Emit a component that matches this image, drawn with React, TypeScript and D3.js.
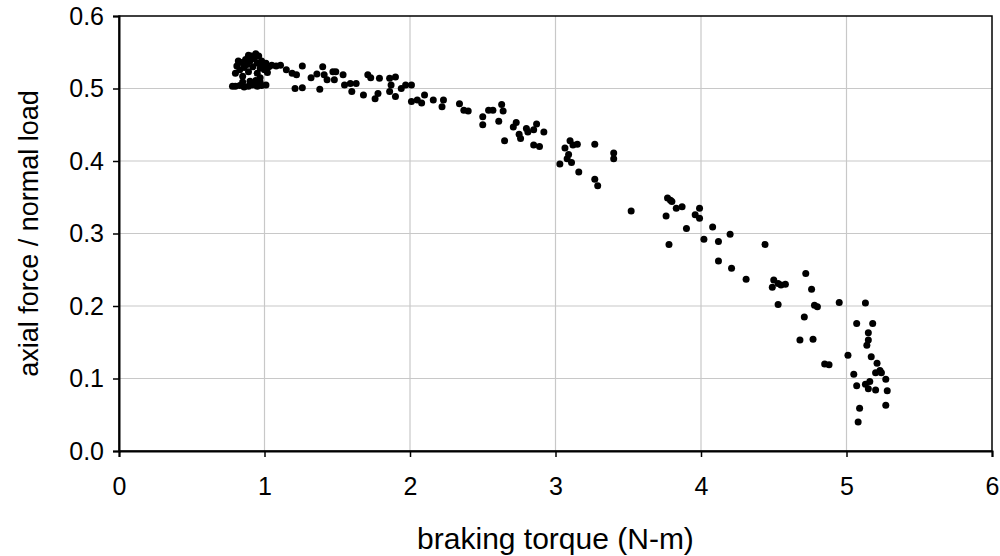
import { select, scaleLinear, axisBottom, axisLeft } from 'd3';
import { useEffect, useRef } from 'react';

// braking torque (N-m) vs axial force / normal load
const torque: number[] = [
  0.78, 0.80, 0.83, 0.86, 0.89, 0.92, 0.95, 0.98, 1.01,
  0.85, 0.90, 0.94, 0.97,
  0.80, 0.81, 0.83, 0.84, 0.85, 0.86, 0.87, 0.88, 0.89, 0.90, 0.91, 0.92, 0.93, 0.94, 0.95, 0.96, 0.97, 0.98, 0.99, 1.00, 1.01, 1.03, 0.82, 0.95, 0.89, 1.02, 0.97,
  1.05, 1.08, 1.11, 1.15, 1.19, 1.22, 1.26, 1.21, 1.26, 1.32, 1.36, 1.38, 1.40, 1.41, 1.43, 1.47,
  1.49, 1.48, 1.54, 1.55, 1.59, 1.60, 1.63, 1.68, 1.71, 1.73, 1.79, 1.76, 1.78, 1.86, 1.90, 1.87, 1.86, 1.90, 1.94, 1.97, 2.01, 2.01, 2.05, 2.08, 2.10, 2.16, 2.23, 2.22, 2.34, 2.37,
  2.40, 2.50, 2.50, 2.54, 2.57, 2.63, 2.64, 2.61, 2.65, 2.71, 2.73, 2.76, 2.75, 2.80, 2.81, 2.85, 2.87, 2.85, 2.89, 2.92, 3.065, 3.10, 3.12, 3.15, 3.09, 3.08, 3.03, 3.11, 3.16, 3.27, 3.27, 3.29, 3.40, 3.40, 3.52,
  3.77, 3.79, 3.80, 3.83, 3.87, 3.76, 3.99, 3.96, 3.99, 3.90, 3.78, 4.02, 4.08, 4.12, 4.20, 4.12, 4.21,
  4.44, 4.31, 4.50, 4.49, 4.53, 4.55, 4.58, 4.72, 4.76, 4.53, 4.78, 4.80, 4.95, 4.71, 4.68, 4.77, 4.85, 4.88, 5.01,
  5.13, 5.07, 5.18, 5.15, 5.15, 5.14, 5.17, 5.21, 5.23, 5.20, 5.24, 5.27, 5.05, 5.07, 5.13, 5.15, 5.16, 5.20, 5.28, 5.09, 5.27, 5.08,
];

const ratio: number[] = [
  0.503, 0.503, 0.504, 0.502, 0.503, 0.505, 0.503, 0.504, 0.505,
  0.509, 0.510, 0.511, 0.509,
  0.521, 0.531, 0.526, 0.536, 0.517, 0.529, 0.540, 0.533, 0.523, 0.538, 0.545, 0.530, 0.541, 0.548, 0.535, 0.545, 0.528, 0.538, 0.532, 0.526, 0.535, 0.530, 0.538, 0.521, 0.546, 0.522, 0.515,
  0.532, 0.531, 0.532, 0.526, 0.521, 0.519, 0.531, 0.500, 0.501, 0.515, 0.520, 0.499, 0.530, 0.519, 0.512, 0.523,
  0.523, 0.512, 0.519, 0.505, 0.507, 0.496, 0.507, 0.491, 0.519, 0.515, 0.514, 0.486, 0.493, 0.514, 0.516, 0.505, 0.496, 0.489, 0.500, 0.505, 0.505, 0.482, 0.484, 0.480, 0.491, 0.484, 0.484, 0.475, 0.479, 0.470,
  0.469, 0.461, 0.450, 0.470, 0.470, 0.478, 0.469, 0.455, 0.428, 0.447, 0.453, 0.431, 0.437, 0.445, 0.440, 0.443, 0.451, 0.422, 0.420, 0.440, 0.418, 0.428, 0.422, 0.423, 0.409, 0.403, 0.396, 0.398, 0.385, 0.423, 0.375, 0.366, 0.411, 0.403, 0.331,
  0.349, 0.346, 0.344, 0.335, 0.337, 0.324, 0.335, 0.326, 0.321, 0.307, 0.285, 0.292, 0.309, 0.289, 0.299, 0.262, 0.252,
  0.285, 0.237, 0.236, 0.226, 0.231, 0.229, 0.230, 0.245, 0.223, 0.202, 0.201, 0.199, 0.205, 0.185, 0.153, 0.154, 0.120, 0.119, 0.132,
  0.204, 0.176, 0.176, 0.163, 0.153, 0.146, 0.130, 0.121, 0.111, 0.108, 0.108, 0.099, 0.106, 0.090, 0.092, 0.086, 0.096, 0.084, 0.083, 0.059, 0.063, 0.040,
];

const xTicks = [0, 1, 2, 3, 4, 5, 6];
const yTicks = [0, 0.1, 0.2, 0.3, 0.4, 0.5, 0.6];

const W = 1000, H = 556;
const left = 119, right = 992, top = 16, bottom = 451;
const font = '"Liberation Sans", Arial, sans-serif';

export default function App() {
  const svgRef = useRef<SVGSVGElement>(null);

  useEffect(() => {
    if (svgRef.current == null) return;
    const svg = select(svgRef.current);
    svg.selectAll('*').remove();

    const x = scaleLinear().domain([0, 6]).range([left, right]);
    const y = scaleLinear().domain([0, 0.6]).range([bottom, top]);

    // gridlines
    svg.append('g')
      .selectAll('line')
      .data(xTicks.slice(1, -1))
      .enter()
      .append('line')
      .attr('x1', d => x(d)).attr('x2', d => x(d))
      .attr('y1', top).attr('y2', bottom)
      .attr('stroke', '#c8c8c8').attr('stroke-width', 1.2);
    svg.append('g')
      .selectAll('line')
      .data(yTicks.slice(1, -1))
      .enter()
      .append('line')
      .attr('y1', d => y(d)).attr('y2', d => y(d))
      .attr('x1', left).attr('x2', right)
      .attr('stroke', '#c8c8c8').attr('stroke-width', 1.2);

    // frame
    svg.append('rect')
      .attr('x', left).attr('y', top)
      .attr('width', right - left).attr('height', bottom - top)
      .attr('fill', 'none').attr('stroke', '#000').attr('stroke-width', 1.5);

    // points
    svg.append('g')
      .selectAll('circle')
      .data(torque.map((t, i) => [t, ratio[i]] as [number, number]))
      .enter()
      .append('circle')
      .attr('cx', d => x(d[0]))
      .attr('cy', d => y(d[1]))
      .attr('r', 3.5)
      .attr('fill', '#000');

    const gx = svg.append('g')
      .attr('transform', `translate(0,${bottom})`)
      .call(axisBottom(x).tickValues(xTicks).tickFormat(d => `${d}`).tickSize(6).tickPadding(20));
    const gy = svg.append('g')
      .attr('transform', `translate(${left},0)`)
      .call(axisLeft(y).tickValues(yTicks).tickFormat(d => (d as number).toFixed(1)).tickSize(6).tickPadding(9));

    [gx, gy].forEach(g => {
      g.select('.domain').attr('stroke', '#000').attr('stroke-width', 2);
      g.selectAll('.tick line').attr('stroke', '#000').attr('stroke-width', 1.5);
      g.selectAll('.tick text')
        .attr('fill', '#000')
        .style('font-family', font)
        .style('font-size', '25px');
    });

    svg.append('text')
      .attr('x', (left + right) / 2).attr('y', 549)
      .attr('text-anchor', 'middle')
      .style('font-family', font).style('font-size', '30px')
      .text('braking torque (N-m)');

    svg.append('text')
      .attr('transform', `translate(38,${(top + bottom) / 2}) rotate(-90)`)
      .attr('text-anchor', 'middle')
      .style('font-family', font).style('font-size', '27px')
      .text('axial force / normal load');
  }, []);

  return (
    <svg ref={svgRef} width={W} height={H}
      style={{ position: 'absolute', left: 0, top: 0, background: '#fff' }}></svg>
  );
}
